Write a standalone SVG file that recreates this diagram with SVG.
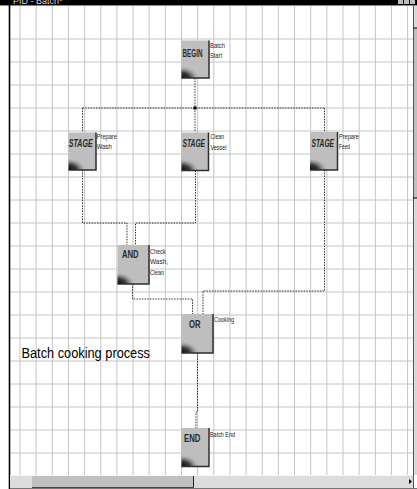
<svg xmlns="http://www.w3.org/2000/svg" width="417" height="489" viewBox="0 0 417 489">
<style>
.grid{stroke:#c4c4c4;stroke-width:1;fill:none}
.box{fill:#bebebe}
.edge{stroke:#2e2e2e;stroke-width:1.5;fill:none}
.lbl{font-family:"Liberation Sans",Arial,sans-serif;font-weight:bold;font-size:10px;fill:#2a2a2a}
.stage{font-style:italic}
.note{font-family:"Liberation Sans",Arial,sans-serif;font-size:6.5px;fill:#1a1a1a}
.conn{stroke:#333;stroke-width:1;fill:none;stroke-dasharray:1.5,1.2}
</style>
<defs>
<radialGradient id="shade" cx="0" cy="1" r="1" fx="0" fy="1">
<stop offset="0" stop-color="#0a0a0a"/>
<stop offset="0.45" stop-color="#3a3a3a"/>
<stop offset="0.8" stop-color="#9a9a9a" stop-opacity="0.6"/>
<stop offset="1" stop-color="#bebebe" stop-opacity="0"/>
</radialGradient>
<clipPath id="tb"><rect x="0" y="0" width="417" height="5"/></clipPath>
</defs>
<rect x="0" y="0" width="417" height="489" fill="#ffffff"/>
<!-- grid -->
<g id="grid">
<path class="grid" d="M20,6V475M36.15,6V475M52.3,6V475M68.45,6V475M84.6,6V475M100.75,6V475M116.9,6V475M133.05,6V475M149.2,6V475M165.35,6V475M181.5,6V475M197.65,6V475M213.8,6V475M229.95,6V475M246.1,6V475M262.25,6V475M278.4,6V475M294.55,6V475M310.7,6V475M326.85,6V475M343,6V475M359.15,6V475M375.3,6V475M391.45,6V475M407.6,6V475"/>
<path class="grid" d="M10,39H413M10,62H413M10,85H413M10,108H413M10,131H413M10,154H413M10,177H413M10,200H413M10,223H413M10,246H413M10,269H413M10,292H413M10,315H413M10,338H413M10,361H413M10,384H413M10,407H413M10,430H413M10,453H413"/>
</g>
<!-- window chrome -->
<g id="chrome">
<rect x="0" y="0" width="417" height="5" fill="#000"/>
<text x="13" y="4" clip-path="url(#tb)" font-family="Liberation Sans,Arial,sans-serif" font-size="9" fill="#d8d8d8">PID - Batch*</text>
<rect x="398" y="0" width="5" height="4" fill="#bdbdbd"/>
<rect x="404" y="0" width="5" height="4" fill="#bdbdbd"/>
<rect x="410" y="0" width="5" height="4" fill="#bdbdbd"/>
<line x1="0" y1="5.5" x2="417" y2="5.5" stroke="#8a8a8a" stroke-width="1"/>
<line x1="9.5" y1="0" x2="9.5" y2="489" stroke="#000" stroke-width="1.6"/>
<rect x="413" y="6" width="4" height="469" fill="#d9d9d9"/>
<rect x="413" y="28" width="4" height="170" fill="#c0c0c0"/>
<line x1="413.5" y1="6" x2="413.5" y2="488" stroke="#555" stroke-width="1"/>
<line x1="413" y1="28" x2="417" y2="28" stroke="#000" stroke-width="1"/>
<line x1="413" y1="198" x2="417" y2="198" stroke="#000" stroke-width="1"/>
<rect x="10" y="475" width="403" height="13" fill="#dcdcdc"/>
<line x1="10" y1="475.5" x2="413" y2="475.5" stroke="#f4f4f4" stroke-width="1"/>
<rect x="32" y="476" width="161" height="11" fill="#c0c0c0"/>
<line x1="193.5" y1="476" x2="193.5" y2="487" stroke="#222" stroke-width="1"/>
<line x1="32" y1="487.5" x2="194" y2="487.5" stroke="#444" stroke-width="1"/>
<path d="M409,479L412,481.5L409,484Z" fill="#000"/>
<line x1="10" y1="488.5" x2="417" y2="488.5" stroke="#777" stroke-width="1"/>
</g>
<!-- connectors -->
<g id="connectors">
<path class="conn" d="M195,78V108"/>
<path class="conn" d="M82.5,108H324.5"/>
<path class="conn" d="M82.5,108V132.5"/>
<path class="conn" d="M195,108V132.5"/>
<path class="conn" d="M324.5,108V132"/>
<path class="conn" d="M82.5,170V223H127V245"/>
<path class="conn" d="M195.5,170.5V223H135.5V245"/>
<path class="conn" d="M132.5,284V299H192.5V314"/>
<path class="conn" d="M324.5,170V291H203V314"/>
<path class="conn" d="M197.5,353V412H196V428"/>
<rect x="193.5" y="106.5" width="3" height="3" fill="#000"/>
</g>
<!-- nodes -->
<g id="begin">
<rect class="box" x="181.5" y="40.5" width="27.5" height="37.5"/>
<rect x="181.5" y="66" width="18" height="12" fill="url(#shade)"/>
<path class="edge" d="M209,40.5V78H181.5"/>
<text class="lbl" transform="translate(182.5,57) scale(0.63,1)">BEGIN</text>
<text class="note" x="210" y="47.5" textLength="15" lengthAdjust="spacingAndGlyphs">Batch</text>
<text class="note" x="210" y="58.3" textLength="12" lengthAdjust="spacingAndGlyphs">Start</text>
</g>
<g id="stage-wash">
<rect class="box" x="68.5" y="132.5" width="27.5" height="37.5"/>
<rect x="68.5" y="158" width="18" height="12" fill="url(#shade)"/>
<path class="edge" d="M96,132.5V170H68.5"/>
<text class="lbl stage" transform="translate(68.8,147) scale(0.71,1)">STAGE</text>
<text class="note" x="96.8" y="138.5" textLength="20" lengthAdjust="spacingAndGlyphs">Prepare</text>
<text class="note" x="96.8" y="148.5" textLength="15" lengthAdjust="spacingAndGlyphs">Wash</text>
</g>
<g id="stage-clean">
<rect class="box" x="181.5" y="132.5" width="27" height="38"/>
<rect x="181.5" y="158.5" width="18" height="12" fill="url(#shade)"/>
<path class="edge" d="M208.5,132.5V170.5H181.5"/>
<text class="lbl stage" transform="translate(182.5,147.3) scale(0.67,1)">STAGE</text>
<text class="note" x="210.5" y="139" textLength="13.5" lengthAdjust="spacingAndGlyphs">Clean</text>
<text class="note" x="210.5" y="149.5" textLength="16" lengthAdjust="spacingAndGlyphs">Vessel</text>
</g>
<g id="stage-feed">
<rect class="box" x="310" y="132" width="27.5" height="38"/>
<rect x="310" y="158" width="18" height="12" fill="url(#shade)"/>
<path class="edge" d="M337.5,132V170H310"/>
<text class="lbl stage" transform="translate(311.5,147.3) scale(0.67,1)">STAGE</text>
<text class="note" x="339" y="138.5" textLength="20" lengthAdjust="spacingAndGlyphs">Prepare</text>
<text class="note" x="339" y="149" textLength="11" lengthAdjust="spacingAndGlyphs">Feed</text>
</g>
<g id="and">
<rect class="box" x="117.5" y="245" width="31.5" height="39"/>
<rect x="117.5" y="272" width="18" height="12" fill="url(#shade)"/>
<path class="edge" d="M149,245V284H117.5"/>
<text class="lbl" transform="translate(122,258) scale(0.77,1)" font-size="9">AND</text>
<text class="note" x="150" y="253.5" textLength="15.5" lengthAdjust="spacingAndGlyphs">Check</text>
<text class="note" x="150" y="263.5" textLength="18" lengthAdjust="spacingAndGlyphs">Wash,</text>
<text class="note" x="150" y="274.5" textLength="14" lengthAdjust="spacingAndGlyphs">Clean</text>
</g>
<g id="or">
<rect class="box" x="181.5" y="314" width="31.5" height="39"/>
<rect x="181.5" y="341" width="18" height="12" fill="url(#shade)"/>
<path class="edge" d="M213,314V353H181.5"/>
<text class="lbl" transform="translate(189,328) scale(0.77,1)" font-size="9">OR</text>
<text class="note" x="214" y="321.5" textLength="20" lengthAdjust="spacingAndGlyphs">Cooking</text>
</g>
<g id="end">
<rect class="box" x="181.5" y="428" width="27.5" height="38.5"/>
<rect x="181.5" y="454.5" width="18" height="12" fill="url(#shade)"/>
<path class="edge" d="M209,428V466.5H181.5"/>
<text class="lbl" transform="translate(184,442) scale(0.77,1)" font-size="9">END</text>
<text class="note" x="210" y="437" textLength="25" lengthAdjust="spacingAndGlyphs">Batch End</text>
</g>
<g id="caption">
<text x="21.5" y="358" font-family="Liberation Sans,Arial,sans-serif" font-size="14" fill="#000" textLength="128.5" lengthAdjust="spacingAndGlyphs">Batch cooking process</text>
</g>
</svg>
